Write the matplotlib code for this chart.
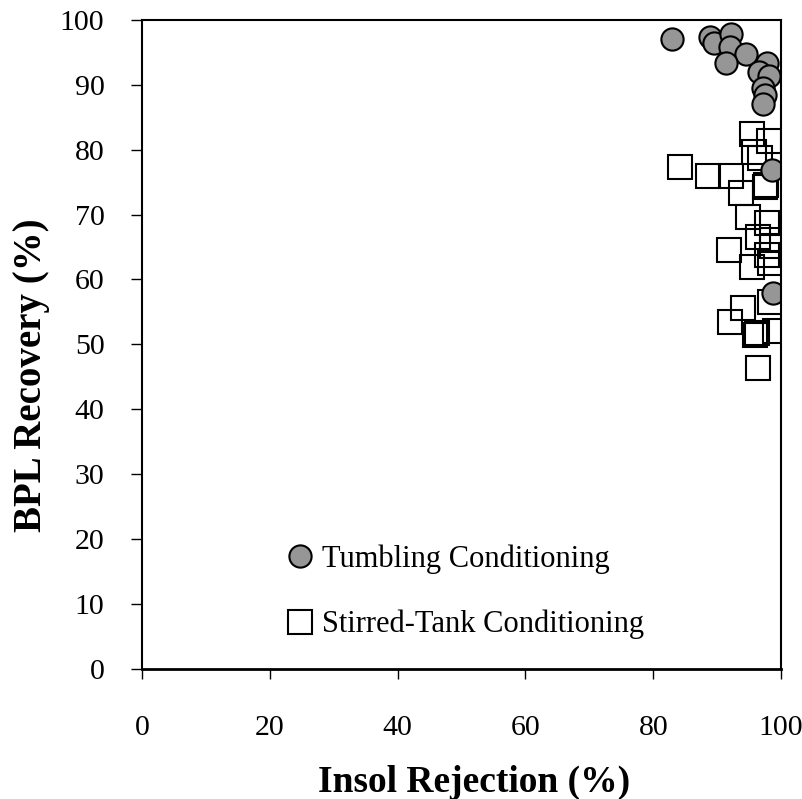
import matplotlib.pyplot as plt

plt.rcParams['font.family'] = ['Liberation Serif', 'DejaVu Serif']

# Tumbling conditioning (insol rejection %, BPL recovery %)
tumbling_x = [82.9, 88.8, 89.5, 92.1, 92.0, 94.5, 91.4, 97.8, 96.5, 98.1,
              97.2, 97.5, 97.2, 98.5, 98.8]
tumbling_y = [97.1, 97.3, 96.4, 97.9, 95.9, 94.7, 93.3, 93.3, 92.0, 91.3,
              89.5, 88.4, 87.0, 76.9, 57.9]

# Stirred-tank conditioning
stirred_x = [95.5, 98.1, 95.7, 96.7, 84.2, 88.6, 92.1, 97.4, 97.7, 93.7,
             94.8, 97.8, 96.4, 98.5, 98.5, 91.8, 97.8, 95.4, 98.3, 98.3,
             94.1, 92.0, 96.2, 99.0, 95.9, 96.4]
stirred_y = [82.5, 81.3, 79.7, 78.7, 77.4, 76.0, 76.0, 74.3, 74.6, 73.4,
             69.6, 68.7, 66.6, 66.1, 65.1, 64.6, 63.8, 62.0, 62.5, 56.6,
             55.6, 53.4, 51.7, 52.1, 51.5, 46.3]

fig = plt.figure(figsize=(8.02, 7.99), dpi=100)
ax = fig.add_axes([0.177, 0.163, 0.797, 0.812])

ax.plot(stirred_x, stirred_y, linestyle='none', marker='s', markersize=17,
        markerfacecolor='none', markeredgecolor='black', markeredgewidth=1.5,
        label='Stirred-Tank Conditioning')
ax.plot(tumbling_x, tumbling_y, linestyle='none', marker='o', markersize=16,
        markerfacecolor='#969696', markeredgecolor='black', markeredgewidth=1.5,
        label='Tumbling Conditioning')

ax.set_xlim(0, 100)
ax.set_ylim(0, 100)
ax.set_xticks(range(0, 101, 20))
ax.set_yticks(range(0, 101, 10))
ax.tick_params(axis='x', direction='out', length=7.5, width=1.0, labelsize=21.5, pad=26)
ax.tick_params(axis='y', direction='out', length=8, width=1.0, labelsize=21.5, pad=19)
for s in ax.spines.values():
    s.set_linewidth(1.5)
ax.spines['bottom'].set_linewidth(2)

ax.set_xlabel('Insol Rejection (%)', fontsize=27, fontweight='bold', labelpad=17)
ax.set_ylabel('BPL Recovery (%)', fontsize=28, fontweight='bold', labelpad=7)
# labels in the original sit a bit off-centre
ax.xaxis.label.set_x(0.52)
ax.yaxis.label.set_y(0.453)

handles, labels = ax.get_legend_handles_labels()
ax.legend(handles[::-1], labels[::-1], loc='upper left', bbox_to_anchor=(0.224, 0.1915),
          frameon=False, fontsize=22, handletextpad=0.2, labelspacing=1.17,
          handlelength=1.0, borderpad=0, borderaxespad=0)

fig.savefig('out.png', dpi=100)
